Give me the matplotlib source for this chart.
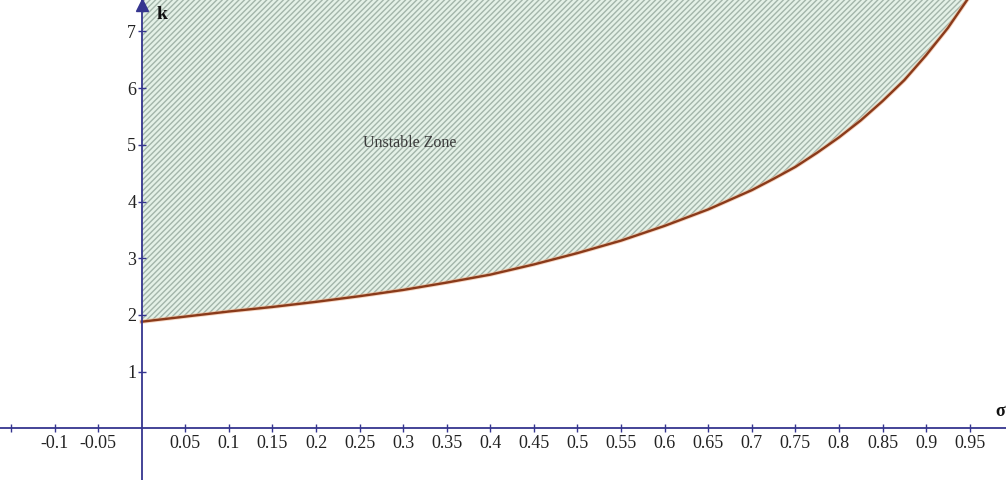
import matplotlib
matplotlib.use("Agg")
import matplotlib.pyplot as plt
import numpy as np

# Stability boundary k(sigma)
sigma = [0.00, 0.05, 0.10, 0.15, 0.20, 0.25, 0.30, 0.35, 0.40, 0.45,
         0.50, 0.55, 0.60, 0.65, 0.70, 0.725, 0.75, 0.775, 0.80, 0.825,
         0.85, 0.875, 0.90, 0.925, 0.95]
k_crit = [1.88, 1.97, 2.06, 2.14, 2.23, 2.33, 2.44, 2.57, 2.71, 2.89,
          3.09, 3.31, 3.57, 3.86, 4.20, 4.40, 4.61, 4.86, 5.13, 5.43,
          5.77, 6.14, 6.58, 7.06, 7.62]

x_ticks = [-0.15, -0.1, -0.05, 0.05, 0.1, 0.15, 0.2, 0.25, 0.3, 0.35, 0.4, 0.45,
           0.5, 0.55, 0.6, 0.65, 0.7, 0.75, 0.8, 0.85, 0.9, 0.95]
x_labels = ["", "-0.1", "-0.05", "0.05", "0.1", "0.15", "0.2", "0.25", "0.3", "0.35",
            "0.4", "0.45", "0.5", "0.55", "0.6", "0.65", "0.7", "0.75", "0.8", "0.85",
            "0.9", "0.95"]
y_ticks = [1, 2, 3, 4, 5, 6, 7]
y_labels = ["1", "2", "3", "4", "5", "6", "7"]

plt.rcParams["font.family"] = ["Liberation Serif", "DejaVu Serif"]
plt.rcParams["hatch.linewidth"] = 1.0

axis_col = "#35358f"
XMIN, XMAX = -0.1626, 0.9917
YMIN, YMAX = -0.912, 7.554

fig = plt.figure(figsize=(10.06, 4.80), dpi=100)
ax = fig.add_axes([0, 0, 1, 1])
ax.set_xlim(XMIN, XMAX)
ax.set_ylim(YMIN, YMAX)

# hatched unstable region above the boundary
ax.fill_between(sigma, k_crit, YMAX, facecolor="#e4f1e7", edgecolor="#a3b5aa",
                hatch="//////", linewidth=0, zorder=1)

# boundary curve
ax.plot(sigma, k_crit, color="#f0b08a", lw=3.0, alpha=0.55, zorder=3,
        solid_joinstyle="round")
ax.plot(sigma, k_crit, color="#8a3a1a", lw=1.7, zorder=4, solid_joinstyle="round")

# axes through the origin
for s in ("top", "right"):
    ax.spines[s].set_visible(False)
ax.spines["left"].set_position(("data", 0))
ax.spines["bottom"].set_position(("data", 0))
ax.spines["left"].set_color(axis_col)
ax.spines["bottom"].set_color(axis_col)
ax.spines["left"].set_linewidth(1.3)
ax.spines["bottom"].set_linewidth(1.3)
ax.spines["left"].set_zorder(5)
ax.spines["bottom"].set_zorder(5)

ax.set_xticks(x_ticks)
ax.set_xticklabels(x_labels)
ax.set_yticks(y_ticks)
ax.set_yticklabels(y_labels)
ax.tick_params(axis="both", direction="inout", length=6, width=1.0,
               color=axis_col, labelsize=13, labelcolor="#222222")
ax.tick_params(axis="x", pad=2)
ax.tick_params(axis="y", pad=1)

# arrow head on the k axis
ax.plot([0], [YMAX - 0.08], marker="^", markersize=9, color=axis_col,
        clip_on=False, zorder=6)

ax.text(0.017, 7.30, "k", fontsize=14, fontweight="bold", color="#111111",
        ha="left", va="center")
ax.text(XMAX - 0.001, 0.30, "σ", fontsize=13, fontweight="bold", color="#111111",
        ha="right", va="center")

ax.text(0.308, 5.03, "Unstable Zone", fontsize=11.5, color="#3a3a3a",
        ha="center", va="center", zorder=6)

fig.savefig("out.png", dpi=100)
